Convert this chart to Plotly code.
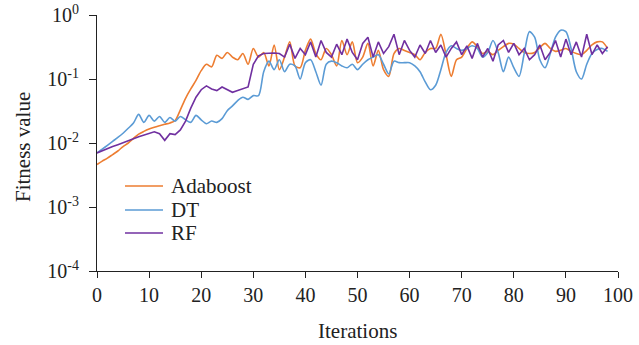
import plotly.graph_objects as go

iterations = list(range(99))

adaboost = [0.0046, 0.0052, 0.0058, 0.0066, 0.0075, 0.0088, 0.0100, 0.0118, 0.0138, 0.0152,
            0.0165, 0.0176, 0.0186, 0.0196, 0.0206, 0.0225, 0.033, 0.050, 0.070, 0.095,
            0.135, 0.17, 0.155, 0.235, 0.21, 0.26, 0.22, 0.20, 0.25, 0.17,
            0.30, 0.22, 0.26, 0.16, 0.34, 0.14, 0.22, 0.38, 0.16, 0.15,
            0.28, 0.42, 0.25, 0.20, 0.30, 0.24, 0.16, 0.40, 0.24, 0.38,
            0.18, 0.22, 0.36, 0.16, 0.28, 0.14, 0.11, 0.25, 0.30, 0.28,
            0.26, 0.24, 0.20, 0.26, 0.30, 0.30, 0.50, 0.24, 0.11, 0.20,
            0.22, 0.30, 0.38, 0.32, 0.25, 0.27, 0.24, 0.28, 0.32, 0.36,
            0.35, 0.30, 0.26, 0.25, 0.26, 0.31, 0.36, 0.30, 0.27, 0.28,
            0.30, 0.27, 0.25, 0.24, 0.28, 0.34, 0.38, 0.38, 0.30]

dt = [0.0070, 0.0080, 0.0092, 0.0106, 0.0122, 0.0142, 0.0170, 0.0205, 0.028, 0.021,
      0.027, 0.022, 0.026, 0.021, 0.025, 0.022, 0.026, 0.023, 0.021, 0.027,
      0.023, 0.020, 0.022, 0.021, 0.024, 0.032, 0.038, 0.046, 0.052, 0.048,
      0.055, 0.055, 0.13, 0.19, 0.14, 0.20, 0.13, 0.17, 0.16, 0.10,
      0.18, 0.20, 0.13, 0.08, 0.17, 0.19, 0.18, 0.16, 0.15, 0.17,
      0.14, 0.17, 0.20, 0.22, 0.24, 0.17, 0.12, 0.19, 0.18, 0.18,
      0.18, 0.16, 0.13, 0.09, 0.068, 0.08, 0.14, 0.26, 0.33, 0.30,
      0.28, 0.30, 0.33, 0.30, 0.22, 0.26, 0.40, 0.26, 0.13, 0.22,
      0.15, 0.11, 0.25, 0.55, 0.45, 0.20, 0.15, 0.25, 0.45, 0.58,
      0.55, 0.30, 0.13, 0.10, 0.17, 0.25, 0.29, 0.30, 0.27]

rf = [0.0070, 0.0076, 0.0082, 0.0088, 0.0094, 0.0100, 0.0108, 0.0116, 0.0125, 0.0134,
      0.0143, 0.0150, 0.0140, 0.0110, 0.0140, 0.0135, 0.016, 0.022, 0.035, 0.052,
      0.068, 0.078, 0.070, 0.066, 0.075, 0.068, 0.062, 0.066, 0.070, 0.075,
      0.17, 0.23, 0.25, 0.255, 0.255, 0.25, 0.22, 0.35, 0.21, 0.30,
      0.24, 0.38, 0.22, 0.40, 0.26, 0.22, 0.35, 0.24, 0.42, 0.26,
      0.20, 0.36, 0.45, 0.22, 0.38, 0.25, 0.32, 0.50, 0.24, 0.40,
      0.28, 0.22, 0.34, 0.25, 0.40, 0.26, 0.34, 0.22, 0.30, 0.38,
      0.24, 0.33, 0.21, 0.36, 0.22, 0.30, 0.19, 0.34, 0.40, 0.26,
      0.36, 0.24, 0.30, 0.20, 0.24, 0.34, 0.20, 0.26, 0.40, 0.22,
      0.42, 0.24, 0.38, 0.22, 0.50, 0.24, 0.34, 0.25, 0.32]

series_names = ["Adaboost", "DT", "RF"]
series_colors = ["#ED7D31", "#5B9BD5", "#7030A0"]

y_tickvals = [1e-4, 1e-3, 1e-2, 1e-1, 1]
y_ticktext = ["10<sup>-4</sup>", "10<sup>-3</sup>", "10<sup>-2</sup>", "10<sup>-1</sup>", "10<sup>0</sup>"]

FONT = "Liberation Serif, Times New Roman, serif"
TXT = "#222"

W, H = 639, 345
ML, MR, MT, MB = 97, 21, 15, 74
PW, PH = W - ML - MR, H - MT - MB


def px_x(px):
    return (px - ML) / PW


def px_y(py):
    return (H - MB - py) / PH


fig = go.Figure()
fig.add_trace(go.Scatter(x=iterations, y=adaboost, mode="lines", name=series_names[0],
                         line=dict(color=series_colors[0], width=1.6, shape="spline", smoothing=0.8)))
fig.add_trace(go.Scatter(x=iterations, y=dt, mode="lines", name=series_names[1],
                         line=dict(color=series_colors[1], width=1.6, shape="spline", smoothing=0.8)))
fig.add_trace(go.Scatter(x=iterations, y=rf, mode="lines", name=series_names[2],
                         line=dict(color=series_colors[2], width=1.6)))

# legend drawn manually to match the reference spacing
legend_rows = [186, 210, 233]
shapes = []
annotations = []
for name, color, row in zip(series_names, series_colors, legend_rows):
    shapes.append(dict(type="line", xref="paper", yref="paper",
                       x0=px_x(125), x1=px_x(163), y0=px_y(row), y1=px_y(row),
                       line=dict(color=color, width=1.6)))
    annotations.append(dict(text=name, xref="paper", yref="paper",
                            x=px_x(169), y=px_y(row), xanchor="left", yanchor="middle",
                            showarrow=False, font=dict(family=FONT, size=21, color=TXT)))

annotations.append(dict(text="Iterations", xref="paper", yref="paper",
                        x=0.5, y=px_y(331), xanchor="center", yanchor="middle",
                        showarrow=False, font=dict(family=FONT, size=21, color=TXT)))
annotations.append(dict(text="Fitness value", xref="paper", yref="paper",
                        x=px_x(23), y=px_y(147), xanchor="center", yanchor="middle",
                        textangle=-90, showarrow=False, font=dict(family=FONT, size=21, color=TXT)))

fig.update_layout(
    width=W, height=H,
    margin=dict(l=ML, r=MR, t=MT, b=MB, autoexpand=False),
    paper_bgcolor="white", plot_bgcolor="white",
    font=dict(family=FONT, size=20, color=TXT),
    showlegend=False,
    xaxis=dict(range=[0, 100], tickmode="linear", tick0=0, dtick=10, automargin=False,
               showgrid=False, zeroline=False, showline=True, linecolor=TXT, linewidth=1.2,
               ticks="outside", ticklen=6, tickcolor=TXT, tickwidth=1.2,
               tickfont=dict(family=FONT, size=20)),
    yaxis=dict(type="log", range=[-4, 0], tickvals=y_tickvals, ticktext=y_ticktext,
               automargin=False, ticklabelstandoff=6,
               showgrid=False, zeroline=False, showline=True, linecolor=TXT, linewidth=1.2,
               ticks="outside", ticklen=7, tickcolor=TXT, tickwidth=1.2,
               tickfont=dict(family=FONT, size=20)),
    shapes=shapes,
    annotations=annotations,
)

fig.write_html("out.html")
